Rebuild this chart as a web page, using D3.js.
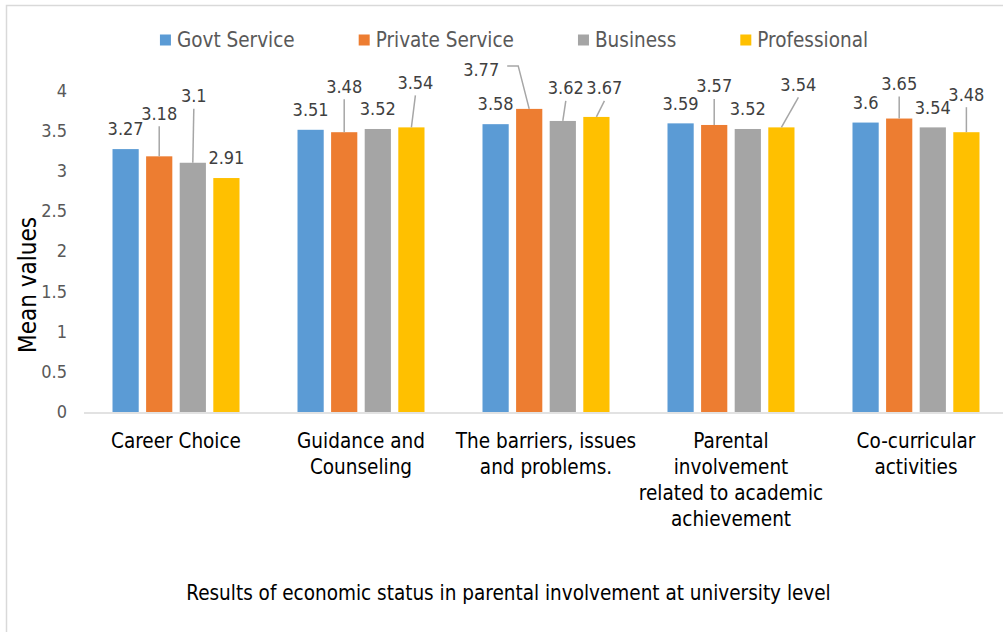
<!DOCTYPE html>
<html>
<head>
<meta charset="utf-8">
<script src="https://cdn.jsdelivr.net/npm/d3@7"></script>
<style>
  body { margin: 0; background: #fff; }
  svg { display: block; }
  text { font-family: "Liberation Sans Narrow", "DejaVu Sans Condensed", sans-serif; }
</style>
</head>
<body>
<svg id="chart"></svg>
<script>
// data
const categories = ["Career Choice", "Guidance and\nCounseling", "The barriers, issues\nand problems.",
  "Parental\ninvolvement\nrelated to academic\nachievement", "Co-curricular\nactivities"];
const seriesNames  = ["Govt Service", "Private Service", "Business", "Professional"];
const govtService    = [3.27, 3.51, 3.58, 3.59, 3.6];
const privateService = [3.18, 3.48, 3.77, 3.57, 3.65];
const business       = [3.1, 3.52, 3.62, 3.52, 3.54];
const professional   = [2.91, 3.54, 3.67, 3.54, 3.48];
const yTicks = [0, 0.5, 1, 1.5, 2, 2.5, 3, 3.5, 4];
const yTitle = "Mean values";
const xTitle = "Results of economic status in parental involvement at university level";

const colors = ["#5b9bd5", "#ed7d31", "#a5a5a5", "#ffc000"];
const seriesValues = [govtService, privateService, business, professional];

// hand-moved data labels (dx, dy of label centre from bar top), null = default spot
const labelMoves = [
  [null, null, null, null, null],
  [[0, -43], [0, -46], [-48, -39], [0, -39], [0, -35]],
  [[1, -67], null, [3, -33], null, null],
  [null, [4, -45], [8, -29], [17, -43], [0, -38]]
];

const W = 1003, H = 632;
const svg = d3.select("#chart").attr("width", W).attr("height", H);

// outer frame
svg.append("rect")
  .attr("x", 6.5).attr("y", 5.5)
  .attr("width", 1020).attr("height", 650)
  .attr("fill", "none")
  .attr("stroke", "#d9d9d9")
  .attr("stroke-width", 1.5);

const x0 = d3.scaleBand()
  .domain(d3.range(categories.length))
  .range([83.5, 1008.5])
  .paddingInner(0.3135)
  .paddingOuter(0.1568);

const x1 = d3.scaleBand()
  .domain(d3.range(seriesNames.length))
  .range([0, x0.bandwidth()])
  .paddingInner(0.22)
  .paddingOuter(0);

const y = d3.scaleLinear().domain([0, 4]).range([412, 90.4]);

// y axis
const yAxis = svg.append("g")
  .attr("transform", "translate(84,0)")
  .call(d3.axisLeft(y).tickValues(yTicks).tickSize(0).tickPadding(17).tickFormat(d3.format("")));
yAxis.select(".domain").remove();
yAxis.selectAll("text")
  .attr("fill", "#595959")
  .style("font-size", "18px");

svg.append("text")
  .attr("transform", "translate(36,285) rotate(-90)")
  .attr("text-anchor", "middle")
  .attr("fill", "#000")
  .style("font-size", "24px")
  .text(yTitle);

// bars
const groups = svg.append("g").selectAll("g")
  .data(seriesValues)
  .join("g")
    .attr("fill", (d, i) => colors[i]);

groups.each(function(vals, s) {
  d3.select(this).selectAll("rect")
    .data(vals)
    .join("rect")
      .attr("x", (d, c) => x0(c) + x1(s))
      .attr("y", d => y(d))
      .attr("width", x1.bandwidth())
      .attr("height", d => y(0) - y(d));
});

// x axis
const xAxis = svg.append("g")
  .attr("transform", "translate(0,412.5)")
  .call(d3.axisBottom(x0).tickSize(0).tickPadding(0));
xAxis.select(".domain")
  .attr("stroke", "#d9d9d9")
  .attr("stroke-width", 1.5);
xAxis.selectAll(".tick text").each(function(c) {
  const t = d3.select(this).text(null)
    .attr("fill", "#000")
    .attr("y", null)
    .attr("dy", null)
    .style("font-size", "20.5px");
  categories[c].split("\n").forEach((line, k) => {
    t.append("tspan").attr("x", 0).attr("y", 35.5 + k * 26).text(line);
  });
});

// data labels + leader lines
const labels = svg.append("g");
seriesValues.forEach((vals, s) => {
  vals.forEach((v, c) => {
    const bx = x0(c) + x1(s) + x1.bandwidth() / 2;
    const by = y(v);
    const mv = labelMoves[s][c];
    const tx = bx + (mv ? mv[0] : 0);
    const ty = by + (mv ? mv[1] : -20);
    if (mv) {
      let path;
      if (Math.abs(mv[0]) > 25) {
        path = `M${tx + 26},${ty - 4}h11L${bx},${by}`;
      } else {
        path = `M${tx},${ty + 13}L${bx},${by}`;
      }
      labels.append("path")
        .attr("d", path)
        .attr("fill", "none")
        .attr("stroke", "#a6a6a6")
        .attr("stroke-width", 1.5);
    }
    labels.append("text")
      .attr("x", tx)
      .attr("y", ty)
      .attr("dy", "0.35em")
      .attr("text-anchor", "middle")
      .attr("fill", "#404040")
      .style("font-size", "18px")
      .text(v);
  });
});

// legend
const legend = svg.append("g").attr("transform", "translate(0,40)");
const items = legend.selectAll("g")
  .data(seriesNames)
  .join("g");
items.append("rect")
  .attr("y", -5.5)
  .attr("width", 11).attr("height", 11)
  .attr("fill", (d, i) => colors[i]);
items.append("text")
  .attr("x", 17)
  .attr("dy", "0.35em")
  .attr("fill", "#595959")
  .style("font-size", "20.5px")
  .text(d => d);
let widths = [];
items.each(function() { widths.push(this.getBBox().width); });
const gap = 64;
const total = d3.sum(widths) + gap * (widths.length - 1);
let lx = 514 - total / 2;
items.attr("transform", (d, i) => {
  const t = `translate(${lx},0)`;
  lx += widths[i] + gap;
  return t;
});

// bottom title
svg.append("text")
  .attr("x", 508.5)
  .attr("y", 593)
  .attr("dy", "0.35em")
  .attr("text-anchor", "middle")
  .attr("fill", "#000")
  .style("font-size", "20.5px")
  .text(xTitle);
</script>
</body>
</html>
